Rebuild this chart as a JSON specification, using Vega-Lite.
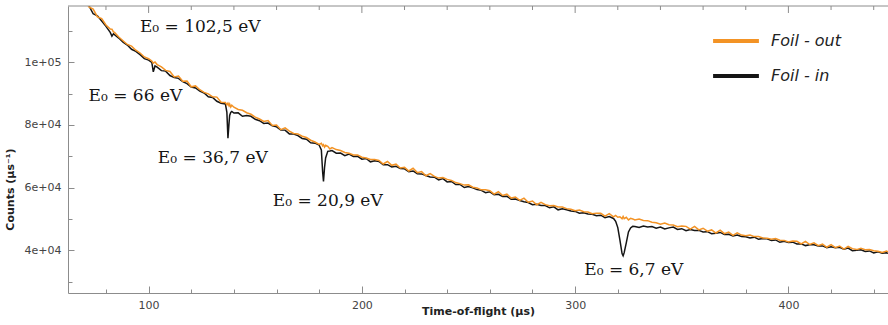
{
  "$schema": "https://vega.github.io/schema/vega-lite/v6.json",
  "width": 820,
  "height": 287,
  "autosize": {"type": "none"},
  "padding": {"left": 68, "top": 6, "right": 0, "bottom": 32},
  "background": "white",
  "config": {
    "view": {"stroke": null},
    "axis": {
      "grid": false,
      "domainColor": "#8c8c8c",
      "tickColor": "#8c8c8c",
      "labelColor": "#444444",
      "labelFont": "DejaVu Sans",
      "labelFontSize": 11,
      "titleFont": "DejaVu Sans",
      "titleFontSize": 11,
      "titleFontWeight": "bold",
      "titleColor": "#222222"
    },
    "axisX": {
      "orient": "bottom",
      "values": [80,100,120,140,160,180,200,220,240,260,280,300,320,340,360,380,400,420,440],
      "labelExpr": "datum.value % 100 === 0 ? datum.label : ''",
      "tickSize": {"condition": {"test": "datum.value % 100 === 0", "value": -7}, "value": -4},
      "labelPadding": 13,
      "labelOverlap": false,
      "titleBaseline": "middle",
      "titleY": 18.5
    },
    "axisY": {
      "orient": "left",
      "values": [30000,35000,40000,45000,50000,55000,60000,65000,70000,75000,80000,85000,90000,95000,100000,105000,110000,115000],
      "labelExpr": "datum.value % 20000 === 0 ? (datum.value === 100000 ? '1e+05' : format(datum.value / 10000, 'd') + 'e+04') : ''",
      "tickSize": {"condition": {"test": "datum.value % 20000 === 0", "value": -6}, "value": -4},
      "labelPadding": 13,
      "labelOverlap": false,
      "titleX": -53,
      "titleY": 183
    }
  },
  "datasets": {
    "tof": [
      {"t":70,"o":120150,"i":118800},{"t":72,"o":117590,"i":117990},{"t":74,"o":116930,"i":115430},{"t":76,"o":114410,"i":114760},
      {"t":78,"o":113880,"i":113130},{"t":80,"o":111850,"i":111400},{"t":82,"o":110540,"i":109490},{"t":82.8,"o":110500,"i":108300},
      {"t":83.5,"o":109650,"i":109000},{"t":84,"o":109480,"i":108750},{"t":86,"o":108030,"i":107680},{"t":88,"o":106830,"i":106380},
      {"t":90,"o":105650,"i":105450},{"t":92,"o":105110,"i":104110},{"t":94,"o":103800,"i":103420},{"t":96,"o":102930,"i":102400},
      {"t":98,"o":101670,"i":101120},{"t":100,"o":101100,"i":100650},{"t":101.5,"o":100390,"i":99900},{"t":102.2,"o":99680,"i":96900},
      {"t":103,"o":100080,"i":98800},{"t":104,"o":99240,"i":98400},{"t":106,"o":98480,"i":97300},{"t":108,"o":97390,"i":97150},
      {"t":110,"o":97050,"i":95750},{"t":112,"o":95320,"i":95100},{"t":114,"o":95570,"i":94850},{"t":116,"o":93940,"i":93800},
      {"t":118,"o":94010,"i":93150},{"t":120,"o":92150,"i":92100},{"t":122,"o":92440,"i":91800},{"t":124,"o":91230,"i":90750},
      {"t":126,"o":90370,"i":90200},{"t":128,"o":89910,"i":89000},{"t":130,"o":88950,"i":88750},{"t":132,"o":88870,"i":87550},
      {"t":134,"o":87240,"i":86900},{"t":136,"o":87180,"i":86700},{"t":136.7,"o":86360,"i":84000},{"t":137.2,"o":86950,"i":75800},
      {"t":137.7,"o":86140,"i":80500},{"t":138,"o":86640,"i":83000},{"t":138.5,"o":85730,"i":84000},{"t":139,"o":86270,"i":84300},
      {"t":140,"o":85650,"i":83800},{"t":142,"o":84910,"i":83850},{"t":144,"o":84670,"i":82750},{"t":146,"o":83900,"i":83000},
      {"t":148,"o":83400,"i":82750},{"t":150,"o":82500,"i":81800},{"t":152,"o":81900,"i":81350},{"t":154,"o":81100,"i":80500},
      {"t":156,"o":81390,"i":80600},{"t":158,"o":79860,"i":79750},{"t":160,"o":80000,"i":79400},{"t":162,"o":78490,"i":78400},
      {"t":164,"o":79080,"i":78350},{"t":166,"o":78020,"i":77150},{"t":168,"o":77290,"i":77100},{"t":170,"o":77150,"i":76600},
      {"t":172,"o":76390,"i":75700},{"t":174,"o":75980,"i":75450},{"t":176,"o":75120,"i":74300},{"t":178,"o":74560,"i":74200},
      {"t":180,"o":73800,"i":73550},{"t":181,"o":74170,"i":72000},{"t":181.6,"o":73350,"i":65000},{"t":182,"o":73690,"i":62000},
      {"t":182.5,"o":72950,"i":66500},{"t":183,"o":73510,"i":69500},{"t":184,"o":73180,"i":71600},{"t":185,"o":72350,"i":71700},
      {"t":186,"o":72800,"i":71850},{"t":188,"o":72150,"i":71000},{"t":190,"o":71850,"i":71050},{"t":192,"o":71240,"i":70200},
      {"t":194,"o":70980,"i":70700},{"t":196,"o":70420,"i":69950},{"t":198,"o":70460,"i":70000},{"t":200,"o":69700,"i":69100},
      {"t":202,"o":69490,"i":69300},{"t":204,"o":68980,"i":68250},{"t":206,"o":68970,"i":68600},{"t":208,"o":68660,"i":68350},
      {"t":210,"o":67550,"i":67300},{"t":212,"o":68340,"i":67350},{"t":214,"o":67130,"i":66600},{"t":216,"o":67500,"i":66800},
      {"t":218,"o":66260,"i":66150},{"t":220,"o":66500,"i":66000},{"t":222,"o":65340,"i":65100},{"t":224,"o":66180,"i":65350},
      {"t":226,"o":64810,"i":64450},{"t":228,"o":65130,"i":64400},{"t":230,"o":63800,"i":63900},{"t":232,"o":64520,"i":63400},
      {"t":234,"o":63590,"i":63350},{"t":236,"o":63060,"i":62500},{"t":238,"o":63230,"i":62900},{"t":240,"o":62650,"i":61850},
      {"t":242,"o":62320,"i":62000},{"t":244,"o":61640,"i":61000},{"t":246,"o":61310,"i":61050},{"t":248,"o":60830,"i":60050},
      {"t":250,"o":60900,"i":60400},{"t":252,"o":60140,"i":59950},{"t":254,"o":59930,"i":59400},{"t":256,"o":59320,"i":59150},
      {"t":258,"o":59360,"i":58400},{"t":260,"o":59050,"i":58700},{"t":262,"o":57940,"i":57800},{"t":264,"o":58710,"i":57900},
      {"t":266,"o":57530,"i":57200},{"t":268,"o":57940,"i":57250},{"t":270,"o":56700,"i":56350},{"t":272,"o":57030,"i":56400},
      {"t":274,"o":55960,"i":55900},{"t":276,"o":56690,"i":55500},{"t":278,"o":55370,"i":55300},{"t":280,"o":55750,"i":54600},
      {"t":282,"o":54570,"i":54700},{"t":284,"o":55340,"i":54350},{"t":286,"o":54610,"i":54300},{"t":288,"o":54230,"i":53600},
      {"t":290,"o":54350,"i":53900},{"t":292,"o":53860,"i":52950},{"t":294,"o":53820,"i":53300},{"t":296,"o":53330,"i":53000},
      {"t":298,"o":53140,"i":52600},{"t":300,"o":52650,"i":52450},{"t":302,"o":52860,"i":51900},{"t":304,"o":52320,"i":52000},
      {"t":306,"o":52250,"i":51650},{"t":308,"o":51700,"i":51550},{"t":310,"o":51900,"i":51100},{"t":312,"o":51850,"i":51250},
      {"t":314,"o":50950,"i":50450},{"t":316,"o":51740,"i":50800},{"t":318,"o":50720,"i":50200},{"t":319,"o":51160,"i":49300},
      {"t":320,"o":50600,"i":47300},{"t":321,"o":50740,"i":43300},{"t":322,"o":50130,"i":39000},{"t":322.5,"o":50820,"i":38300},
      {"t":323,"o":50120,"i":39300},{"t":324,"o":50560,"i":42500},{"t":325,"o":49750,"i":45900},{"t":326,"o":50250,"i":47200},
      {"t":327,"o":50050,"i":47700},{"t":328,"o":49700,"i":47650},{"t":330,"o":50000,"i":47300},{"t":332,"o":49550,"i":47800},
      {"t":334,"o":49500,"i":47450},{"t":336,"o":49000,"i":47600},{"t":338,"o":48850,"i":47100},{"t":340,"o":48400,"i":47450},
      {"t":342,"o":48750,"i":46850},{"t":344,"o":48200,"i":47200},{"t":346,"o":48140,"i":47450},{"t":348,"o":47590,"i":46700},
      {"t":350,"o":47800,"i":46950},{"t":352,"o":47680,"i":46300},{"t":354,"o":46810,"i":46700},{"t":356,"o":47660,"i":46350},
      {"t":358,"o":46570,"i":46400},{"t":360,"o":47080,"i":45900},{"t":362,"o":46140,"i":46000},{"t":364,"o":46550,"i":45350},
      {"t":366,"o":45570,"i":45500},{"t":368,"o":46480,"i":45750},{"t":370,"o":45350,"i":45100},{"t":372,"o":45870,"i":45150},
      {"t":374,"o":44830,"i":44600},{"t":376,"o":45600,"i":44900},{"t":378,"o":44910,"i":44450},{"t":380,"o":44680,"i":44400},
      {"t":382,"o":44950,"i":44000},{"t":384,"o":44420,"i":44250},{"t":386,"o":44440,"i":43550},{"t":388,"o":44010,"i":43800},
      {"t":390,"o":43930,"i":43700},{"t":392,"o":43550,"i":43200},{"t":394,"o":43820,"i":43350},{"t":396,"o":43240,"i":42600},
      {"t":398,"o":43210,"i":42950},{"t":400,"o":42680,"i":42550},{"t":402,"o":43010,"i":42650},{"t":404,"o":42940,"i":42100},
      {"t":406,"o":42080,"i":42150},{"t":408,"o":42920,"i":41550},{"t":410,"o":41910,"i":41800},{"t":412,"o":42450,"i":41850},
      {"t":414,"o":41540,"i":41400},{"t":416,"o":42030,"i":41450},{"t":418,"o":41030,"i":40900},{"t":420,"o":41880,"i":41200},
      {"t":422,"o":40880,"i":40850},{"t":424,"o":41430,"i":41000},{"t":426,"o":40430,"i":40400},{"t":428,"o":41280,"i":40750},
      {"t":430,"o":40580,"i":39950},{"t":432,"o":40280,"i":40100},{"t":434,"o":40690,"i":40200},{"t":436,"o":40250,"i":39700},
      {"t":438,"o":40310,"i":39850},{"t":440,"o":39920,"i":39200},{"t":442,"o":39780,"i":39550},{"t":444,"o":39390,"i":39150},
      {"t":446,"o":39800,"i":39250},{"t":448,"o":39210,"i":38800}
    ],
    "ann": [
      {"t":124.2,"c":111350,"label":"E₀ = 102,5 eV"},
      {"t":93.8,"c":89350,"label":"E₀ = 66 eV"},
      {"t":130.1,"c":69475,"label":"E₀ = 36,7 eV"},
      {"t":184.0,"c":55830,"label":"E₀ = 20,9 eV"},
      {"t":327.5,"c":33860,"label":"E₀ = 6,7 eV"}
    ],
    "topticks": [
      {"tk":80},{"tk":100},{"tk":120},{"tk":140},{"tk":160},{"tk":180},{"tk":200},{"tk":220},{"tk":240},{"tk":260},
      {"tk":280},{"tk":300},{"tk":320},{"tk":340},{"tk":360},{"tk":380},{"tk":400},{"tk":420},{"tk":440}
    ]
  },
  "layer": [
    {
      "data": {"name": "tof"},
      "mark": {"type": "line", "strokeWidth": 1.5, "clip": true},
      "encoding": {
        "x": {
          "field": "t", "type": "quantitative",
          "scale": {"domain": [62.2, 446.7], "nice": false, "zero": false},
          "title": "Time-of-flight (µs)"
        },
        "y": {
          "field": "i", "type": "quantitative",
          "scale": {"domain": [26450, 117900], "nice": false, "zero": false},
          "title": "Counts (µs⁻¹)"
        },
        "color": {
          "datum": "Foil - in",
          "scale": {"domain": ["Foil - out", "Foil - in"], "range": ["#f39325", "#151515"]},
          "legend": {
            "orient": "none",
            "legendX": 643,
            "legendY": 10,
            "title": null,
            "symbolType": "stroke",
            "symbolStrokeWidth": 4,
            "symbolSize": 2100,
            "labelFont": "DejaVu Sans",
            "labelFontStyle": "italic",
            "labelFontSize": 16,
            "labelColor": "#222222",
            "labelOffset": 10
          }
        }
      }
    },
    {
      "data": {"name": "tof"},
      "mark": {"type": "line", "strokeWidth": 1.5, "clip": true},
      "encoding": {
        "x": {"field": "t", "type": "quantitative", "title": "Time-of-flight (µs)"},
        "y": {"field": "o", "type": "quantitative", "title": "Counts (µs⁻¹)"},
        "color": {"datum": "Foil - out"}
      }
    },
    {
      "data": {"name": "topticks"},
      "transform": [{"filter": "datum.tk % 100 !== 0"}],
      "mark": {"type": "rule", "color": "#8c8c8c", "strokeWidth": 1},
      "encoding": {
        "x": {"field": "tk", "type": "quantitative", "title": "Time-of-flight (µs)"},
        "y": {"datum": 117900, "type": "quantitative", "title": "Counts (µs⁻¹)"},
        "y2": {"datum": 116625}
      }
    },
    {
      "data": {"name": "topticks"},
      "transform": [{"filter": "datum.tk % 100 === 0"}],
      "mark": {"type": "rule", "color": "#8c8c8c", "strokeWidth": 1},
      "encoding": {
        "x": {"field": "tk", "type": "quantitative", "title": "Time-of-flight (µs)"},
        "y": {"datum": 117900, "type": "quantitative", "title": "Counts (µs⁻¹)"},
        "y2": {"datum": 115670}
      }
    },
    {
      "data": {"name": "topticks"},
      "transform": [{"filter": "datum.tk === 80"}],
      "mark": {"type": "rule", "color": "#8c8c8c", "strokeWidth": 1},
      "encoding": {
        "x": {"datum": 62.2, "type": "quantitative", "title": "Time-of-flight (µs)"},
        "x2": {"datum": 446.7},
        "y": {"datum": 117900, "type": "quantitative", "title": "Counts (µs⁻¹)"}
      }
    },
    {
      "data": {"name": "ann"},
      "mark": {"type": "text", "font": "DejaVu Serif", "fontSize": 17, "color": "#151515", "align": "center", "baseline": "middle"},
      "encoding": {
        "x": {"field": "t", "type": "quantitative", "title": "Time-of-flight (µs)"},
        "y": {"field": "c", "type": "quantitative", "title": "Counts (µs⁻¹)"},
        "text": {"field": "label"}
      }
    }
  ]
}
